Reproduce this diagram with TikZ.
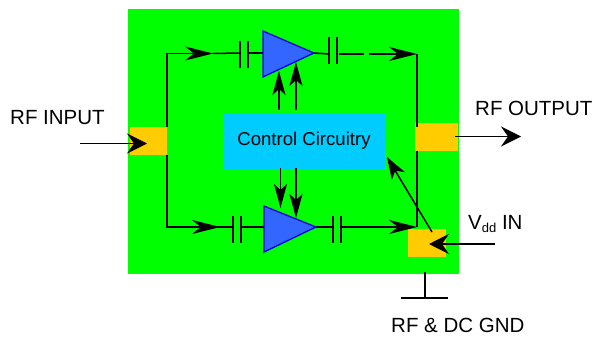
\documentclass[tikz,border=0pt]{standalone}
\usepackage{fontspec}
\setmainfont{Liberation Sans}
\usetikzlibrary{arrows.meta}
\definecolor{chipgreen}{RGB}{0,255,0}
\definecolor{padgold}{RGB}{255,204,0}
\definecolor{ctrlblue}{RGB}{0,204,255}
\definecolor{ampfill}{RGB}{51,102,255}
\definecolor{ampline}{RGB}{0,0,230}
\tikzset{
  x=1pt,y=-1pt,
  wire/.style={line width=1.5pt,black},
  longhead/.style={wire,-{Stealth[length=28pt,width=14pt,inset=9pt]}},
  midhead/.style={wire,-{Stealth[length=24pt,width=13pt,inset=6pt]}},
  bighead/.style={wire,-{Stealth[length=20pt,width=20pt,inset=7pt]}},
  pad/.style={fill=padgold,inner sep=0pt},
  amp/.style={draw=ampline,fill=ampfill,line width=1.3pt,line join=miter},
  plate/.style={line width=1.5pt,black},
  lbl/.style={font=\fontsize{20.5}{24}\selectfont,inner sep=0pt,anchor=base west},
}
\begin{document}
\begin{tikzpicture}
\useasboundingbox (0,0) rectangle (597,337);
\fill[chipgreen] (128,9) rectangle (459,274);
% pads and control block
\node[pad,minimum width=37pt,minimum height=28pt] (inpad) at (148.5,141) {};
\node[pad,minimum width=43pt,minimum height=28pt] (outpad) at (436.5,137) {};
\node[pad,minimum width=38pt,minimum height=28pt] (vddpad) at (427,243) {};
\node[fill=ctrlblue,inner sep=0pt,minimum width=162pt,minimum height=56pt,font=\fontsize{18.6}{22}\selectfont] (ctrl) at (304,141) {Control Circuitry};
% coordinates
\coordinate (tl) at (167,53.5);
\coordinate (tlhead) at (213,53.5);
\coordinate (bl) at (167,227);
\coordinate (blhead) at (220,227);
\coordinate (tr) at (417,54);
\coordinate (br) at (417,227);
\coordinate (c1a) at (240,53); \coordinate (c1b) at (248,53);
\coordinate (c2a) at (329,54); \coordinate (c2b) at (337,54);
\coordinate (c3a) at (233,227); \coordinate (c3b) at (241,227);
\coordinate (c4a) at (333,227); \coordinate (c4b) at (341,227);
\coordinate (a1l) at (263,53); \coordinate (a1t) at (314,53);
\coordinate (a2l) at (264,227); \coordinate (a2t) at (316,227);
% left wires
\draw[wire] (167,127) -- (tl) -- (tlhead);
\draw[longhead] (tl) -- (tlhead);
\draw[wire] (tlhead) -- (c1a);
\draw[wire] (c1b) -- (a1l);
\draw[wire] (167,155) -- (bl) -- (blhead);
\draw[longhead] (bl) -- (blhead);
\draw[wire] (blhead) -- (c3a);
\draw[wire] (c3b) -- (a2l);
% right wires
\draw[wire] (a1t) -- (c2a);
\draw[wire] (339,54) -- (364,54);
\draw[longhead] (369,54) -- (tr);
\draw[wire] (tr) -- (417,127);
\draw[wire] (a2t) -- (c4a);
\draw[longhead] (c4b) -- (br);
\draw[wire] (417,151) -- (br);
% capacitor plates
\draw[plate] (240,41) -- (240,68) (248,41) -- (248,68);
\draw[plate] (329,37) -- (329,64) (337,37) -- (337,64);
\draw[plate] (233,216) -- (233,243) (241,216) -- (241,243);
\draw[plate] (333,216) -- (333,243) (341,216) -- (341,243);
% control arrows
\draw[midhead] (279,110) -- (279,71);
\draw[midhead] (296,110) -- (296,62);
% amplifiers
\draw[amp] (263,31) -- (314,53) -- (263,77) -- cycle;
\draw[amp] (264,206) -- (316,227) -- (264,252) -- cycle;
\draw[midhead] (280.5,168) -- (280.5,208);
\draw[midhead] (296,168) -- (296,218);
% external arrows
\coordinate (inS) at (80,143.5);
\coordinate (outE) at (521,136.5);
\coordinate (vddS) at (495,244);
\draw[bighead] (inS) -- (147,143.5);
\draw[bighead] (455,136.5) -- (outE);
\draw[bighead] (vddS) -- (429,244);
\draw[wire,-{Stealth[length=22pt,width=15pt,inset=6pt]}] (432,232) -- (387,157);
% ground
\coordinate (gndT) at (425,272);
\coordinate (gndB) at (425,298);
\draw[wire] (gndT) -- (gndB);
\draw[wire] (401,298) -- (448,298);
% labels
\node[lbl] (rfin) at (10,124) {RF INPUT};
\node[lbl] (rfout) at (475,115) {RF OUTPUT};
\node[lbl] (vdd) at (468,229) {V\raisebox{-0.3ex}{\fontsize{13}{15}\selectfont dd} IN};
\node[lbl] (gnd) at (391,332) {RF \& DC GND};
\end{tikzpicture}
\end{document}
